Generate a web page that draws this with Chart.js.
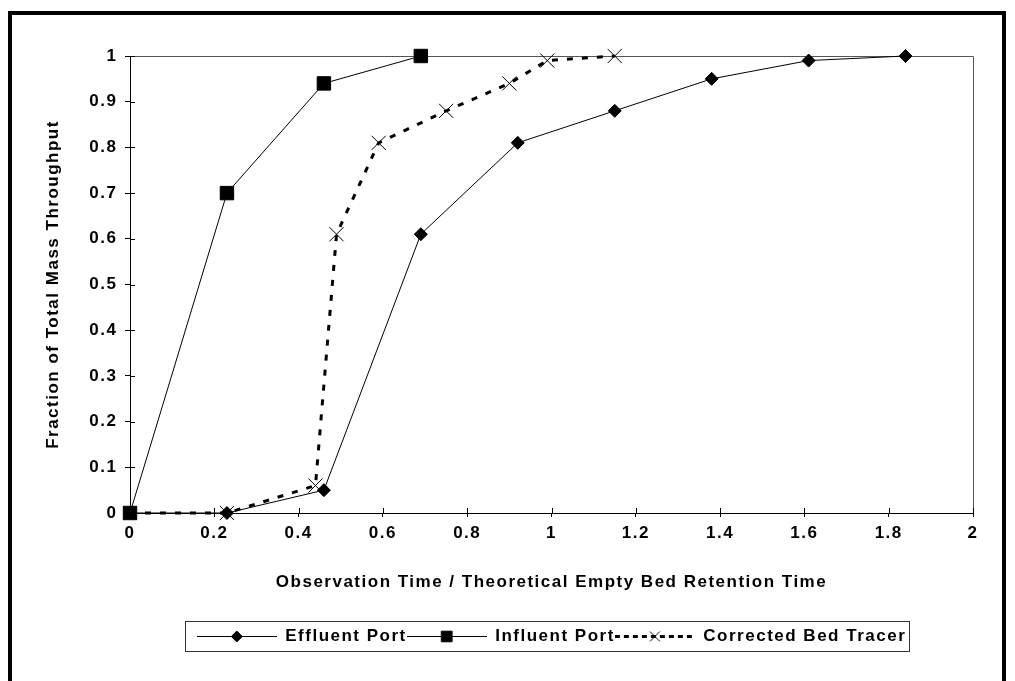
<!DOCTYPE html>
<html>
<head>
<meta charset="utf-8">
<script src="https://cdn.jsdelivr.net/npm/chart.js@4.4.1/dist/chart.umd.min.js"></script>
<style>
  html, body { margin: 0; padding: 0; background: #fff; }
  #wrap { position: relative; width: 1015px; height: 681px; overflow: hidden; background: #fff; }
  #frame { position: absolute; left: 8px; top: 11px; width: 990px; height: 720px; border: 4px solid #000; }
  #c { position: absolute; left: 0; top: 0; }
</style>
</head>
<body>
<div id="wrap">
  <div id="frame"></div>
  <canvas id="c" width="1015" height="681"></canvas>
</div>
<script>
// Breakthrough curves: fraction of total mass vs. normalised observation time
const seriesNames = ['Effluent Port', 'Influent Port', 'Corrected Bed Tracer'];

const effluentTime     = [0, 0.23, 0.46, 0.69, 0.92, 1.15, 1.38, 1.61, 1.84];
const effluentFraction = [0, 0, 0.05, 0.61, 0.81, 0.88, 0.95, 0.99, 1.0];

const influentTime     = [0, 0.23, 0.46, 0.69];
const influentFraction = [0, 0.70, 0.94, 1.0];

const tracerTime       = [0, 0.23, 0.44, 0.49, 0.59, 0.75, 0.90, 0.99, 1.15];
const tracerFraction   = [0, 0, 0.06, 0.61, 0.81, 0.88, 0.94, 0.99, 1.0];

const xTickLabels = ['0', '0.2', '0.4', '0.6', '0.8', '1', '1.2', '1.4', '1.6', '1.8', '2'];
const yTickLabels = ['0', '0.1', '0.2', '0.3', '0.4', '0.5', '0.6', '0.7', '0.8', '0.9', '1'];

const xAxisTitle = 'Observation Time / Theoretical Empty Bed Retention Time';
const yAxisTitle = 'Fraction of Total Mass Throughput';

const pairs = (xs, ys) => xs.map((x, i) => ({ x, y: ys[i] }));

const FONT = '"Liberation Sans", Arial, Helvetica, sans-serif';
const SPACING = '1.5px';
Chart.defaults.font.family = FONT;
Chart.defaults.font.size = 17;
Chart.defaults.font.weight = 'bold';
Chart.defaults.color = '#000';

// line/marker look of each series
const looks = [
  { pointStyle: 'rectRot',  pointRadius: 6.5, borderWidth: 1, dash: [],     legendRadius: 5.5, legendDash: [] },
  { pointStyle: 'rect',     pointRadius: 9.5, borderWidth: 1, dash: [],     legendRadius: 7.5, legendDash: [] },
  { pointStyle: 'crossRot', pointRadius: 10,  borderWidth: 3, dash: [6, 9], legendRadius: 7,   legendDash: [5, 4] }
];

// small canvas with a line segment and the series marker, used as legend symbol
function legendSample(look, w, h) {
  const c = document.createElement('canvas');
  c.width = w; c.height = h;
  const g = c.getContext('2d');
  g.strokeStyle = '#000'; g.fillStyle = '#000';
  g.lineWidth = look.borderWidth;
  g.setLineDash(look.legendDash);
  const mid = Math.floor(h / 2) + 0.5;
  g.beginPath(); g.moveTo(0, mid); g.lineTo(w, mid); g.stroke();
  g.setLineDash([]);
  g.lineWidth = 1;
  Chart.helpers.drawPoint(g, { pointStyle: look.pointStyle, radius: look.legendRadius, borderWidth: 1, rotation: 0 }, w / 2, mid);
  return c;
}

const SAMPLE_W = 80;
const SAMPLE_H = 21;

function makeDataset(i, xs, ys) {
  const lk = looks[i];
  return {
    label: seriesNames[i],
    data: pairs(xs, ys),
    showLine: true,
    tension: 0,
    clip: false,
    borderColor: '#000',
    backgroundColor: '#000',
    borderWidth: lk.borderWidth,
    borderDash: lk.dash,
    pointStyle: lk.pointStyle,
    pointRadius: lk.pointRadius,
    pointHoverRadius: lk.pointRadius,
    pointBorderWidth: 1,
    pointBorderColor: '#000',
    pointBackgroundColor: '#000'
  };
}

const chartDecor = {
  id: 'chartDecor',
  beforeUpdate(chart) { chart.ctx.letterSpacing = SPACING; },
  beforeDraw(chart) { chart.ctx.letterSpacing = SPACING; },
  beforeDatasetsDraw(chart) {
    const { ctx, chartArea: a, scales: { x, y } } = chart;
    ctx.save();
    // plot area outline on the top and right sides
    ctx.strokeStyle = '#555';
    ctx.lineWidth = 1;
    const t = Math.round(a.top) + 0.5, r = Math.round(a.right) + 0.5;
    ctx.beginPath();
    ctx.moveTo(a.left, t); ctx.lineTo(r, t); ctx.lineTo(r, a.bottom);
    ctx.stroke();
    // tick marks cross the axes: draw the inner halves
    ctx.strokeStyle = '#000';
    ctx.beginPath();
    x.ticks.forEach(tk => {
      const px = Math.round(x.getPixelForValue(tk.value)) + 0.5;
      ctx.moveTo(px, a.bottom); ctx.lineTo(px, a.bottom - 5);
    });
    y.ticks.forEach(tk => {
      const py = Math.round(y.getPixelForValue(tk.value)) + 0.5;
      ctx.moveTo(a.left, py); ctx.lineTo(a.left + 5, py);
    });
    ctx.stroke();
    ctx.restore();
  },
  afterDraw(chart) {
    // frame round the legend
    const hb = chart.legend && chart.legend.legendHitBoxes;
    if (!hb || !hb.length) return;
    const { ctx } = chart;
    const l = Math.min(...hb.map(h => h.left)) - 12;
    const r = Math.max(...hb.map(h => h.left + h.width)) + 3;
    const t = hb[0].top - 7;
    const b = hb[0].top + hb[0].height + 6;
    ctx.save();
    ctx.strokeStyle = '#333';
    ctx.lineWidth = 1;
    ctx.strokeRect(Math.round(l) + 0.5, Math.round(t) + 0.5, Math.round(r - l), Math.round(b - t));
    ctx.restore();
  }
};

new Chart(document.getElementById('c'), {
  type: 'scatter',
  data: {
    datasets: [
      makeDataset(0, effluentTime, effluentFraction),
      makeDataset(1, influentTime, influentFraction),
      makeDataset(2, tracerTime, tracerFraction)
    ]
  },
  options: {
    responsive: false,
    animation: false,
    devicePixelRatio: 1,
    layout: { padding: { top: 56, right: 42, bottom: 26, left: 0 } },
    scales: {
      x: {
        type: 'linear',
        min: 0, max: 2,
        afterFit(s) { s.height = 115; },
        ticks: {
          stepSize: 0.2, padding: 6, maxRotation: 0, font: { size: 17, weight: 'bold' },
          callback: (v, i) => xTickLabels[i]
        },
        grid: { display: true, drawOnChartArea: false, drawTicks: true, tickLength: 4, color: '#000', lineWidth: 1 },
        border: { display: true, color: '#000', width: 1 },
        title: { display: true, text: xAxisTitle, font: { size: 17, weight: 'bold' }, padding: { top: 0, bottom: 35 } }
      },
      y: {
        type: 'linear',
        min: 0, max: 1,
        afterFit(s) { s.width = 130; },
        ticks: {
          stepSize: 0.1, padding: 7.5, font: { size: 17, weight: 'bold' },
          callback: (v, i) => yTickLabels[i]
        },
        grid: { display: true, drawOnChartArea: false, drawTicks: true, tickLength: 5, color: '#000', lineWidth: 1 },
        border: { display: true, color: '#000', width: 1 },
        title: { display: true, text: yAxisTitle, font: { size: 17, weight: 'bold' }, padding: { top: 43, bottom: 0 } }
      }
    },
    plugins: {
      tooltip: { enabled: false },
      legend: {
        display: true,
        position: 'bottom',
        fullSize: false,
        align: 'center',
        labels: {
          usePointStyle: true,
          pointStyleWidth: SAMPLE_W,
          boxHeight: 17,
          padding: 0,
          color: '#000',
          font: { size: 17, weight: 'bold' },
          generateLabels(chart) {
            return chart.data.datasets.map((ds, i) => ({
              text: ds.label,
              datasetIndex: i,
              hidden: false,
              fontColor: '#000',
              fillStyle: '#000',
              strokeStyle: '#000',
              lineWidth: 0,
              pointStyle: legendSample(looks[i], SAMPLE_W, SAMPLE_H),
              rotation: 0
            }));
          }
        }
      }
    }
  },
  plugins: [chartDecor]
});
</script>
</body>
</html>
